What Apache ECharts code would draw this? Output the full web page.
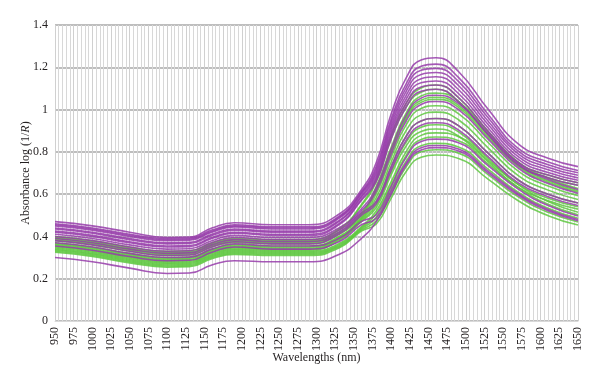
<!DOCTYPE html>
<html><head><meta charset="utf-8">
<script src="https://cdn.jsdelivr.net/npm/echarts@6/dist/echarts.min.js"></script>
<style>html,body{margin:0;padding:0;background:#fff}#c{width:600px;height:388px}</style>
</head><body><div id="c"></div>
<script>
var wavelengths = [950,1000,1050,1100,1130,1160,1190,1240,1290,1330,1360,1380,1400,1420,1440,1460,1490,1530,1570,1610,1650];
var xTicks = [950,975,1000,1025,1050,1075,1100,1125,1150,1175,1200,1225,1250,1275,1300,1325,1350,1375,1400,1425,1450,1475,1500,1525,1550,1575,1600,1625,1650];
var yTicks = [0,0.2,0.4,0.6,0.8,1,1.2,1.4];

var purple1 = [.47,.45,.42,.395,.397,.44,.465,.455,.455,.505,.62,.75,.98,1.15,1.235,1.245,1.18,1.00,.838,.77,.73];
var purple2 = [.46,.44,.41,.39,.392,.43,.455,.445,.445,.495,.61,.732,.956,1.122,1.205,1.215,1.152,.976,.817,.752,.712];
var purple3 = [.455,.435,.405,.385,.387,.425,.45,.44,.44,.49,.605,.72,.941,1.104,1.186,1.195,1.133,.96,.804,.739,.701];
var purple4 = [.45,.43,.40,.38,.382,.42,.445,.435,.435,.485,.60,.708,.925,1.086,1.166,1.175,1.114,.944,.791,.727,.689];
var purple5 = [.44,.42,.39,.37,.372,.41,.435,.425,.425,.475,.59,.696,.909,1.067,1.146,1.155,1.095,.928,.777,.715,.677];
var purple6 = [.435,.415,.385,.365,.367,.405,.43,.42,.42,.47,.585,.684,.894,1.049,1.127,1.135,1.076,.912,.764,.702,.666];
var purple7 = [.425,.405,.375,.355,.357,.395,.42,.41,.41,.46,.575,.672,.878,1.03,1.107,1.116,1.057,.896,.75,.69,.654];
var purple8 = [.42,.40,.37,.35,.352,.39,.415,.405,.405,.455,.57,.66,.862,1.012,1.087,1.096,1.038,.88,.737,.678,.642];
var purple9 = [.41,.39,.36,.34,.342,.38,.405,.395,.395,.44,.53,.631,.813,.974,1.054,1.068,1.029,.884,.744,.669,.622];
var purple10 = [.40,.38,.35,.33,.332,.37,.395,.385,.385,.43,.52,.614,.79,.946,1.024,1.038,1.0,.859,.723,.65,.604];
var purple11 = [.39,.37,.34,.32,.322,.36,.385,.375,.375,.42,.51,.566,.73,.874,.946,.958,.924,.793,.667,.60,.558];
var purple12 = [.38,.36,.33,.31,.312,.35,.375,.365,.365,.41,.50,.555,.714,.855,.926,.938,.904,.776,.653,.588,.546];
var purple13 = [.37,.35,.32,.30,.302,.34,.365,.355,.355,.39,.47,.503,.636,.774,.849,.86,.843,.734,.624,.546,.497];
var purple14 = [.355,.335,.305,.285,.287,.325,.35,.34,.34,.375,.455,.486,.614,.747,.819,.83,.813,.708,.602,.527,.48];
var purple15 = [.30,.28,.25,.225,.227,.265,.285,.28,.28,.315,.39,.47,.60,.738,.809,.82,.804,.699,.595,.521,.474];

var green1 = [.40,.38,.35,.33,.332,.37,.39,.385,.385,.435,.55,.672,.878,1.03,1.102,1.116,1.057,.896,.75,.69,.654];
var green2 = [.395,.375,.345,.325,.327,.365,.385,.38,.38,.43,.545,.66,.862,1.012,1.082,1.096,1.038,.88,.737,.678,.642];
var green3 = [.39,.37,.34,.32,.322,.36,.38,.375,.375,.42,.51,.637,.821,.983,1.064,1.078,1.039,.892,.751,.675,.627];
var green4 = [.385,.365,.335,.315,.317,.355,.375,.37,.37,.415,.505,.625,.806,.965,1.044,1.058,1.02,.876,.737,.663,.616];
var green5 = [.38,.36,.33,.31,.312,.35,.37,.365,.365,.41,.50,.62,.798,.956,1.034,1.048,1.01,.867,.73,.656,.61];
var green6 = [.37,.35,.32,.30,.302,.34,.36,.355,.355,.40,.49,.602,.775,.928,1.005,1.018,.981,.843,.709,.638,.593];
var green7 = [.365,.345,.315,.295,.297,.335,.355,.35,.35,.395,.485,.584,.752,.901,.975,.988,.952,.818,.688,.619,.575];
var green8 = [.36,.34,.31,.29,.292,.33,.35,.345,.345,.39,.48,.566,.73,.874,.946,.958,.924,.793,.667,.60,.558];
var green9 = [.355,.335,.305,.285,.287,.325,.345,.34,.34,.385,.475,.549,.707,.846,.916,.928,.895,.768,.646,.581,.54];
var green10 = [.35,.33,.30,.28,.282,.32,.34,.335,.335,.38,.47,.537,.692,.828,.896,.908,.875,.752,.632,.569,.529];
var green11 = [.345,.325,.295,.275,.277,.315,.335,.33,.33,.365,.445,.521,.659,.801,.878,.89,.872,.759,.645,.565,.514];
var green12 = [.34,.32,.29,.27,.272,.31,.33,.325,.325,.36,.44,.509,.644,.783,.859,.87,.853,.742,.631,.552,.503];
var green13 = [.335,.315,.285,.265,.267,.305,.325,.32,.32,.355,.435,.491,.622,.756,.829,.84,.823,.717,.609,.533,.486];
var green14 = [.33,.31,.28,.26,.262,.30,.32,.315,.315,.35,.43,.474,.599,.729,.80,.81,.794,.691,.587,.514,.468];
var green15 = [.325,.305,.275,.255,.257,.295,.315,.31,.31,.345,.425,.459,.581,.707,.775,.785,.769,.67,.569,.498,.454];

var purpleSeries = [purple1,purple2,purple3,purple4,purple5,purple6,purple7,purple8,purple9,purple10,purple11,purple12,purple13,purple14,purple15];
var greenSeries = [green1,green2,green3,green4,green5,green6,green7,green8,green9,green10,green11,green12,green13,green14,green15];

var PURPLE = 'rgba(150,60,170,0.85)';
var GREEN = 'rgba(95,200,65,0.85)';
var FONT = '"Liberation Serif", "DejaVu Serif", serif';

function mk(vals, color, name) {
  return {
    type: 'line', name: name, symbol: 'none', smooth: 0.5,
    data: vals.map(function (v, i) { return [wavelengths[i], v]; }),
    lineStyle: { color: color, width: 1.6 }, silent: true
  };
}
var series = [];
for (var i = 0; i < 15; i++) {
  series.push(mk(greenSeries[i], GREEN, 'g' + (i + 1)));
  series.push(mk(purpleSeries[i], PURPLE, 'p' + (i + 1)));
}

var chart = echarts.init(document.getElementById('c'));
chart.setOption({
  animation: false,
  backgroundColor: '#fff',
  grid: { left: 55, right: 22, top: 25, bottom: 67 },
  xAxis: {
    type: 'value', min: xTicks[0], max: xTicks[xTicks.length - 1], interval: 25,
    name: 'Wavelengths (nm)', nameLocation: 'middle', nameGap: 31, nameMoveOverlap: false,
    nameTextStyle: { fontFamily: FONT, fontSize: 12, color: '#231f20' },
    axisLine: { show: true, lineStyle: { color: '#d9d9d9' } },
    axisTick: { show: false },
    axisLabel: { rotate: 90, fontFamily: FONT, fontSize: 12, color: '#231f20', margin: 6,
      formatter: function (v) { return String(v); } },
    splitLine: { show: true, lineStyle: { color: '#d0d0d0', width: 1 } },
    minorTick: { show: false, splitNumber: 5 },
    minorSplitLine: { show: true, lineStyle: { color: '#d8d8d8', width: 1 } }
  },
  yAxis: {
    type: 'value', min: yTicks[0], max: yTicks[yTicks.length - 1], interval: 0.2,
    name: 'Absorbance log (1/{i|R})', nameLocation: 'middle', nameGap: 23, nameMoveOverlap: false,
    nameTextStyle: { fontFamily: FONT, fontSize: 12, color: '#231f20',
      rich: { i: { fontFamily: FONT, fontSize: 12, fontStyle: 'italic', color: '#231f20' } } },
    axisLine: { show: false }, axisTick: { show: false },
    axisLabel: { fontFamily: FONT, fontSize: 12, color: '#231f20', margin: 7 },
    splitLine: { show: true, lineStyle: { color: '#a8a8a8', width: 1.5 } }
  },
  series: series
});
</script></body></html>
